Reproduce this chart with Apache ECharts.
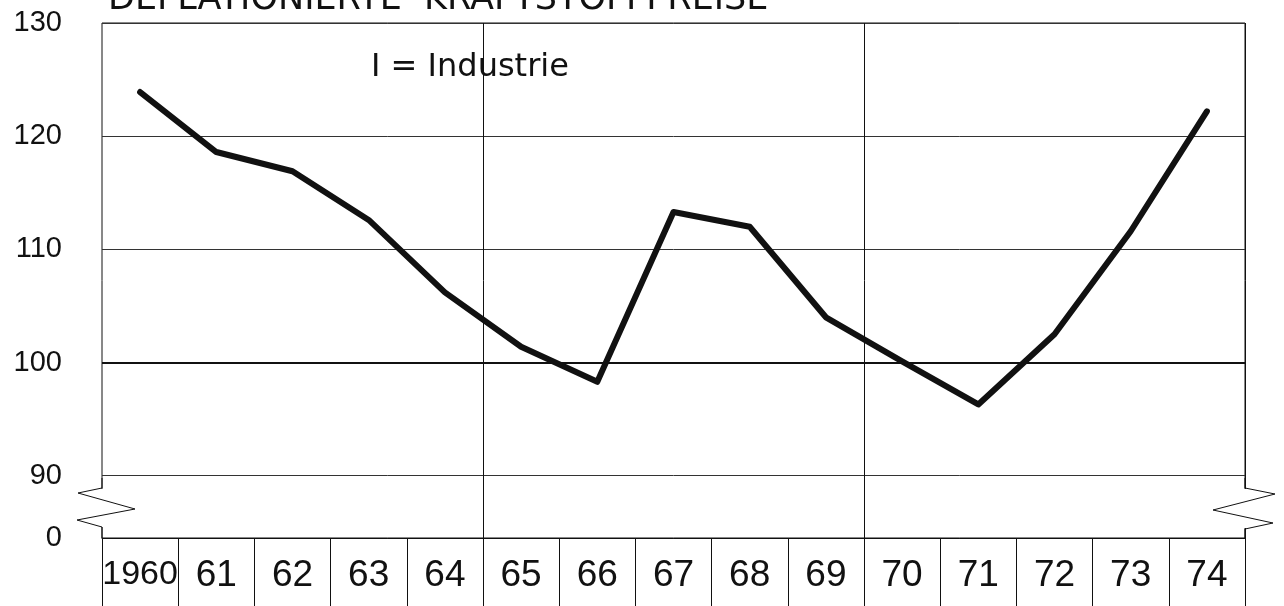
<!DOCTYPE html>
<html>
<head>
<meta charset="utf-8">
<script src="https://cdn.jsdelivr.net/npm/echarts@6/dist/echarts.min.js"></script>
<style>
  html, body { margin: 0; padding: 0; background: #fff; }
  #charts { width: 1284px; height: 606px; }
</style>
</head>
<body>
<div id="charts"></div>
<script>
// Jahre (Kategorien) und deflationierte Kraftstoffpreise, Industrie
let years = ["1960", "61", "62", "63", "64", "65", "66", "67", "68", "69", "70", "71", "72", "73", "74"];
let industrie = [123.9, 118.6, 116.9, 112.6, 106.2, 101.4, 98.3, 113.3, 112.0, 104.0, 100.1, 96.3, 102.5, 111.6, 122.2];
// senkrechte Trennlinien vor diesen Jahren
let dividers = ["65", "70"];

let chartDom = document.getElementById("charts");
let myChart = echarts.init(chartDom);
let ink = "#111";
let option;

option = {
  animation: false,
  backgroundColor: "#fff",
  title: [
    {
      text: "DEFLATIONIERTE  KRAFTSTOFFPREISE",
      left: 103,
      top: -23,
      textStyle: {
        color: ink,
        fontSize: 35,
        fontWeight: "normal",
        fontFamily: "DejaVu Sans",
      },
    },
    {
      text: "I = Industrie",
      left: 366,
      top: 47,
      textStyle: {
        color: ink,
        fontSize: 32,
        fontWeight: "normal",
        fontFamily: "DejaVu Sans",
      },
    },
  ],
  grid: {
    left: 102,
    right: 39,
    top: 23,
    bottom: 68,
    show: true,
    borderColor: ink,
    borderWidth: 1,
  },
  xAxis: {
    type: "category",
    data: years,
    boundaryGap: true,
    axisLine: {
      show: true,
      lineStyle: { color: ink, width: 1 },
    },
    axisTick: {
      show: true,
      interval: 0,
      inside: false,
      length: 68,
      lineStyle: { color: ink, width: 1 },
    },
    axisLabel: {
      interval: 0,
      margin: 19,
      color: ink,
      fontSize: 37,
      fontFamily: "Liberation Sans",
      formatter: function (v) {
        return v.length > 2 ? "{y|" + v + "}" : v;
      },
      rich: {
        y: { fontSize: 34, fontFamily: "Liberation Sans", color: ink, padding: [1, 0, 0, 0] },
      },
    },
    splitLine: {
      show: true,
      interval: function (index) {
        return dividers.indexOf(years[index]) >= 0;
      },
      lineStyle: { color: ink, width: 1 },
    },
  },
  yAxis: {
    type: "value",
    min: 84.5,
    max: 130,
    splitNumber: 5,
    axisLine: { show: false },
    axisTick: { show: false },
    axisLabel: {
      showMinLabel: true,
      margin: 40,
      color: ink,
      fontSize: 29,
      fontFamily: "Liberation Sans",
      formatter: function (v) {
        return v < 90 ? "0" : String(v);
      },
    },
    splitLine: {
      show: true,
      lineStyle: { color: "#333", width: 1 },
    },
  },
  series: [
    {
      name: "Industrie",
      type: "line",
      data: industrie,
      symbol: "none",
      lineStyle: {
        color: ink,
        width: 6,
        cap: "round",
        join: "round",
      },
      markLine: {
        silent: true,
        symbol: "none",
        label: { show: false },
        lineStyle: { color: ink, width: 2, type: "solid" },
        data: [{ yAxis: 100 }],
      },
      z: 5,
    },
  ],
  // Achsenbruch-Zeichen zwischen 90 und 0
  graphic: [
    { type: "rect", shape: { x: 98, y: 489, width: 8, height: 38 }, style: { fill: "#fff" }, z: 50 },
    { type: "rect", shape: { x: 1241, y: 489, width: 8, height: 39 }, style: { fill: "#fff" }, z: 50 },
    {
      type: "polyline",
      shape: { points: [[102, 478], [102, 488], [78, 493], [135, 509], [77, 520], [102, 527], [102, 538]] },
      style: { stroke: ink, lineWidth: 1, fill: null },
      z: 51,
    },
    {
      type: "polyline",
      shape: { points: [[1245, 478], [1245, 488], [1275, 494], [1213, 510], [1273, 523], [1245, 529], [1245, 538]] },
      style: { stroke: ink, lineWidth: 1, fill: null },
      z: 51,
    },
  ],
};

option && myChart.setOption(option);
</script>
</body>
</html>
